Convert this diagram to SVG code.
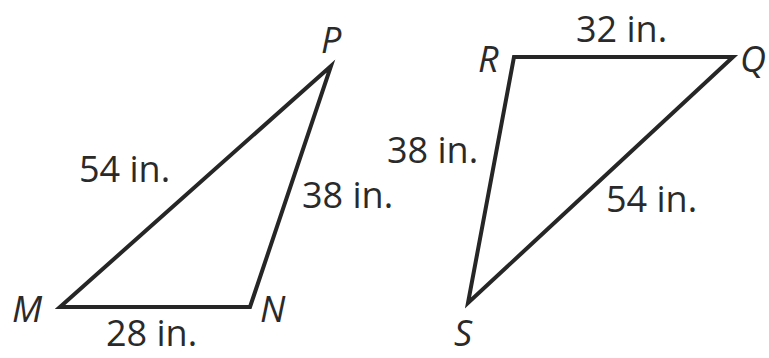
<svg xmlns="http://www.w3.org/2000/svg" width="769" height="358" viewBox="0 0 769 358">
<style>
.edge{fill:none;stroke:#262626;stroke-width:4;stroke-linejoin:miter}
.lbl{font-family:"Open Sans","Liberation Sans",sans-serif;font-size:36px;fill:#2a2a2a}
.vtx{font-family:"Open Sans","Liberation Sans",sans-serif;font-size:36px;font-style:italic;fill:#2a2a2a}
</style>
<rect width="769" height="358" fill="#ffffff"/>
<g id="connectors">
<polygon id="tri-MNP" class="edge" points="60,307 250,307 331,66"/>
<polygon id="tri-RQS" class="edge" points="514,57 733,57 468,303"/>
</g>
<g id="node-P"><text class="vtx" x="321" y="53">P</text></g>
<g id="node-M"><text class="vtx" x="12" y="322">M</text></g>
<g id="node-N"><text class="vtx" x="260" y="322">N</text></g>
<g id="node-R"><text class="vtx" x="478" y="72">R</text></g>
<g id="node-Q"><text class="vtx" x="740" y="72">Q</text></g>
<g id="node-S"><text class="vtx" x="454" y="346">S</text></g>
<g id="labels">
<text class="lbl" x="79" y="182">54 in.</text>
<text class="lbl" x="302" y="208">38 in.</text>
<text class="lbl" x="106" y="346">28 in.</text>
<text class="lbl" x="576" y="42">32 in.</text>
<text class="lbl" x="387" y="163">38 in.</text>
<text class="lbl" x="606" y="212">54 in.</text>
</g>
</svg>
